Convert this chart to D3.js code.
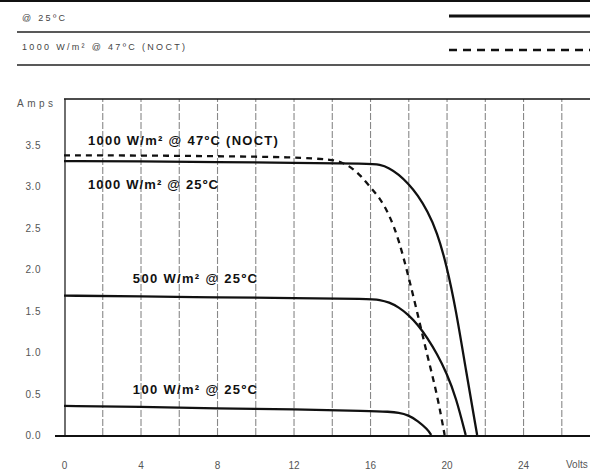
<!DOCTYPE html>
<html>
<head>
<meta charset="utf-8">
<script src="https://cdn.jsdelivr.net/npm/d3@7"></script>
<style>
  body { margin: 0; background: #fff; }
  svg { display: block; font-family: "Liberation Sans", Arial, sans-serif; }
  .tick-label { fill: #555; font-size: 10px; }
  .curve-label { fill: #111; font-size: 13px; font-weight: bold; }
</style>
</head>
<body>
<div id="chart"></div>
<script>
// I-V curves
var volts1000 = [0, 4, 8, 12, 16, 16.5, 17, 17.5, 18, 18.5, 19, 19.5, 20, 20.5, 21, 21.6];
var amps1000 = [3.30, 3.30, 3.29, 3.28, 3.27, 3.26, 3.22, 3.14, 3.03, 2.89, 2.70, 2.45, 2.05, 1.50, 0.80, 0];

var voltsNoct = [0, 4, 8, 12, 14, 14.5, 15, 15.5, 16, 16.5, 17, 17.5, 18, 18.5, 19, 19.5, 19.9];
var ampsNoct = [3.37, 3.37, 3.36, 3.35, 3.32, 3.29, 3.23, 3.13, 2.99, 2.86, 2.66, 2.36, 1.92, 1.45, 0.95, 0.50, 0];

var volts500 = [0, 4, 8, 12, 16, 16.5, 17, 17.5, 18, 18.5, 19, 19.5, 20, 20.5, 21];
var amps500 = [1.68, 1.67, 1.66, 1.65, 1.64, 1.63, 1.60, 1.54, 1.45, 1.33, 1.17, 0.98, 0.75, 0.45, 0];

var volts100 = [0, 4, 8, 12, 16, 17, 17.5, 18, 18.5, 19, 19.2];
var amps100 = [0.35, 0.34, 0.32, 0.31, 0.29, 0.28, 0.27, 0.24, 0.17, 0.07, 0];

var xTicks = [0, 4, 8, 12, 16, 20, 24];
var gridVolts = [2, 4, 6, 8, 10, 12, 14, 16, 18, 20, 22, 24, 26];
var yTicks = [0, 0.5, 1, 1.5, 2, 2.5, 3, 3.5];

// label text and the point (volts, amps) where it starts
var curveLabels = [
    { text: "1000 W/m\u00b2 @ 47\u00baC (NOCT)", v: 1.25, a: 3.50, w: 190 },
    { text: "1000 W/m\u00b2 @ 25\u00baC", v: 1.25, a: 2.97, w: 130 },
    { text: "500 W/m\u00b2 @ 25\u00baC", v: 3.6, a: 1.83, w: 124 },
    { text: "100 W/m\u00b2 @ 25\u00baC", v: 3.6, a: 0.50, w: 124 }
];
var legendRows = ["@ 25\u00baC", "1000 W/m\u00b2 @ 47\u00baC (NOCT)"];

const width = 590, height = 470;

const svg = d3.select("#chart")
    .append("svg")
    .attr("width", width)
    .attr("height", height);

var x = d3.scaleLinear().domain([0, 27.5]).range([64, 590]);
var y = d3.scaleLinear().domain([0, 4.05]).range([435, 99]);

// header strip with the line style legend
svg.append("line")
    .attr("x1", 0).attr("x2", width).attr("y1", 1).attr("y2", 1)
    .attr("stroke", "#111").attr("stroke-width", 2);

[32, 65].forEach(function (yy) {
    svg.append("line")
        .attr("x1", 17).attr("x2", width).attr("y1", yy).attr("y2", yy)
        .attr("stroke", "#222").attr("stroke-width", 1.6);
});

svg.selectAll("text.legend")
    .data(legendRows)
    .join("text")
    .attr("class", "legend")
    .attr("x", 22)
    .attr("y", (d, i) => i == 0 ? 21 : 50)
    .attr("fill", "#444")
    .attr("textLength", (d, i) => i == 0 ? 43 : 163)
    .attr("lengthAdjust", "spacing")
    .style("font-size", "9px")
    .text(d => d);

svg.append("line")
    .attr("x1", 449).attr("x2", width).attr("y1", 16).attr("y2", 16)
    .attr("stroke", "#111").attr("stroke-width", 3);
svg.append("line")
    .attr("x1", 449).attr("x2", width).attr("y1", 50).attr("y2", 50)
    .attr("stroke", "#111").attr("stroke-width", 2.6)
    .attr("stroke-dasharray", "8,6");

// vertical grid
const grid = svg.append("g")
    .attr("transform", "translate(0," + y(0) + ")")
    .call(d3.axisBottom(x).tickValues(gridVolts).tickSize(-(y(0) - y.range()[1])).tickFormat(""));
grid.select(".domain").remove();
grid.selectAll(".tick line")
    .attr("stroke", "#888")
    .attr("stroke-width", 1.1)
    .attr("stroke-dasharray", "7,2");

// frame: top border, left axis, baseline
svg.append("line")
    .attr("x1", x(0)).attr("x2", width).attr("y1", y.range()[1]).attr("y2", y.range()[1])
    .attr("stroke", "#111").attr("stroke-width", 1.5);
svg.append("line")
    .attr("x1", x(0) + 1).attr("x2", x(0) + 1).attr("y1", y.range()[1]).attr("y2", y(0))
    .attr("stroke", "#222").attr("stroke-width", 1.3);
svg.append("line")
    .attr("x1", 55).attr("x2", width).attr("y1", y(0) + 1).attr("y2", y(0) + 1)
    .attr("stroke", "#111").attr("stroke-width", 1.8);

// axis labels
const xAxis = svg.append("g")
    .attr("transform", "translate(0," + (y(0) + 24) + ")")
    .call(d3.axisBottom(x).tickValues(xTicks).tickSize(0).tickFormat(d3.format("d")));
xAxis.select(".domain").remove();
xAxis.selectAll("text").attr("class", "tick-label").attr("fill", null).style("font-size", "10px");

const yAxis = svg.append("g")
    .attr("transform", "translate(36,0)")
    .call(d3.axisLeft(y).tickValues(yTicks).tickSize(0).tickFormat(d3.format(".1f")));
yAxis.select(".domain").remove();
yAxis.selectAll("text").attr("class", "tick-label").attr("fill", null)
    .attr("text-anchor", "middle").attr("dy", "0.35em")
    .attr("textLength", 15).attr("lengthAdjust", "spacing")
    .style("font-size", "10px");

svg.append("text").attr("class", "tick-label")
    .attr("x", 17).attr("y", 107)
    .attr("textLength", 36).attr("lengthAdjust", "spacing")
    .text("Amps");
svg.append("text").attr("class", "tick-label")
    .attr("x", 566).attr("y", 468).text("Volts");

// the curves
const line = d3.line()
    .x(d => x(d[0]))
    .y(d => y(d[1]))
    .curve(d3.curveBasis);

function draw_curve(volts, amps, dashed) {
    svg.append("path")
        .datum(d3.zip(volts, amps))
        .attr("fill", "none")
        .attr("stroke", "#111")
        .attr("stroke-width", 2.3)
        .attr("stroke-dasharray", dashed ? "6,5" : null)
        .attr("d", line);
}

draw_curve(volts100, amps100, false);
draw_curve(volts500, amps500, false);
draw_curve(volts1000, amps1000, false);
draw_curve(voltsNoct, ampsNoct, true);

svg.selectAll("text.curve-label")
    .data(curveLabels)
    .join("text")
    .attr("class", "curve-label")
    .attr("x", d => x(d.v))
    .attr("y", d => y(d.a))
    .attr("textLength", d => d.w)
    .attr("lengthAdjust", "spacing")
    .text(d => d.text);
</script>
</body>
</html>
